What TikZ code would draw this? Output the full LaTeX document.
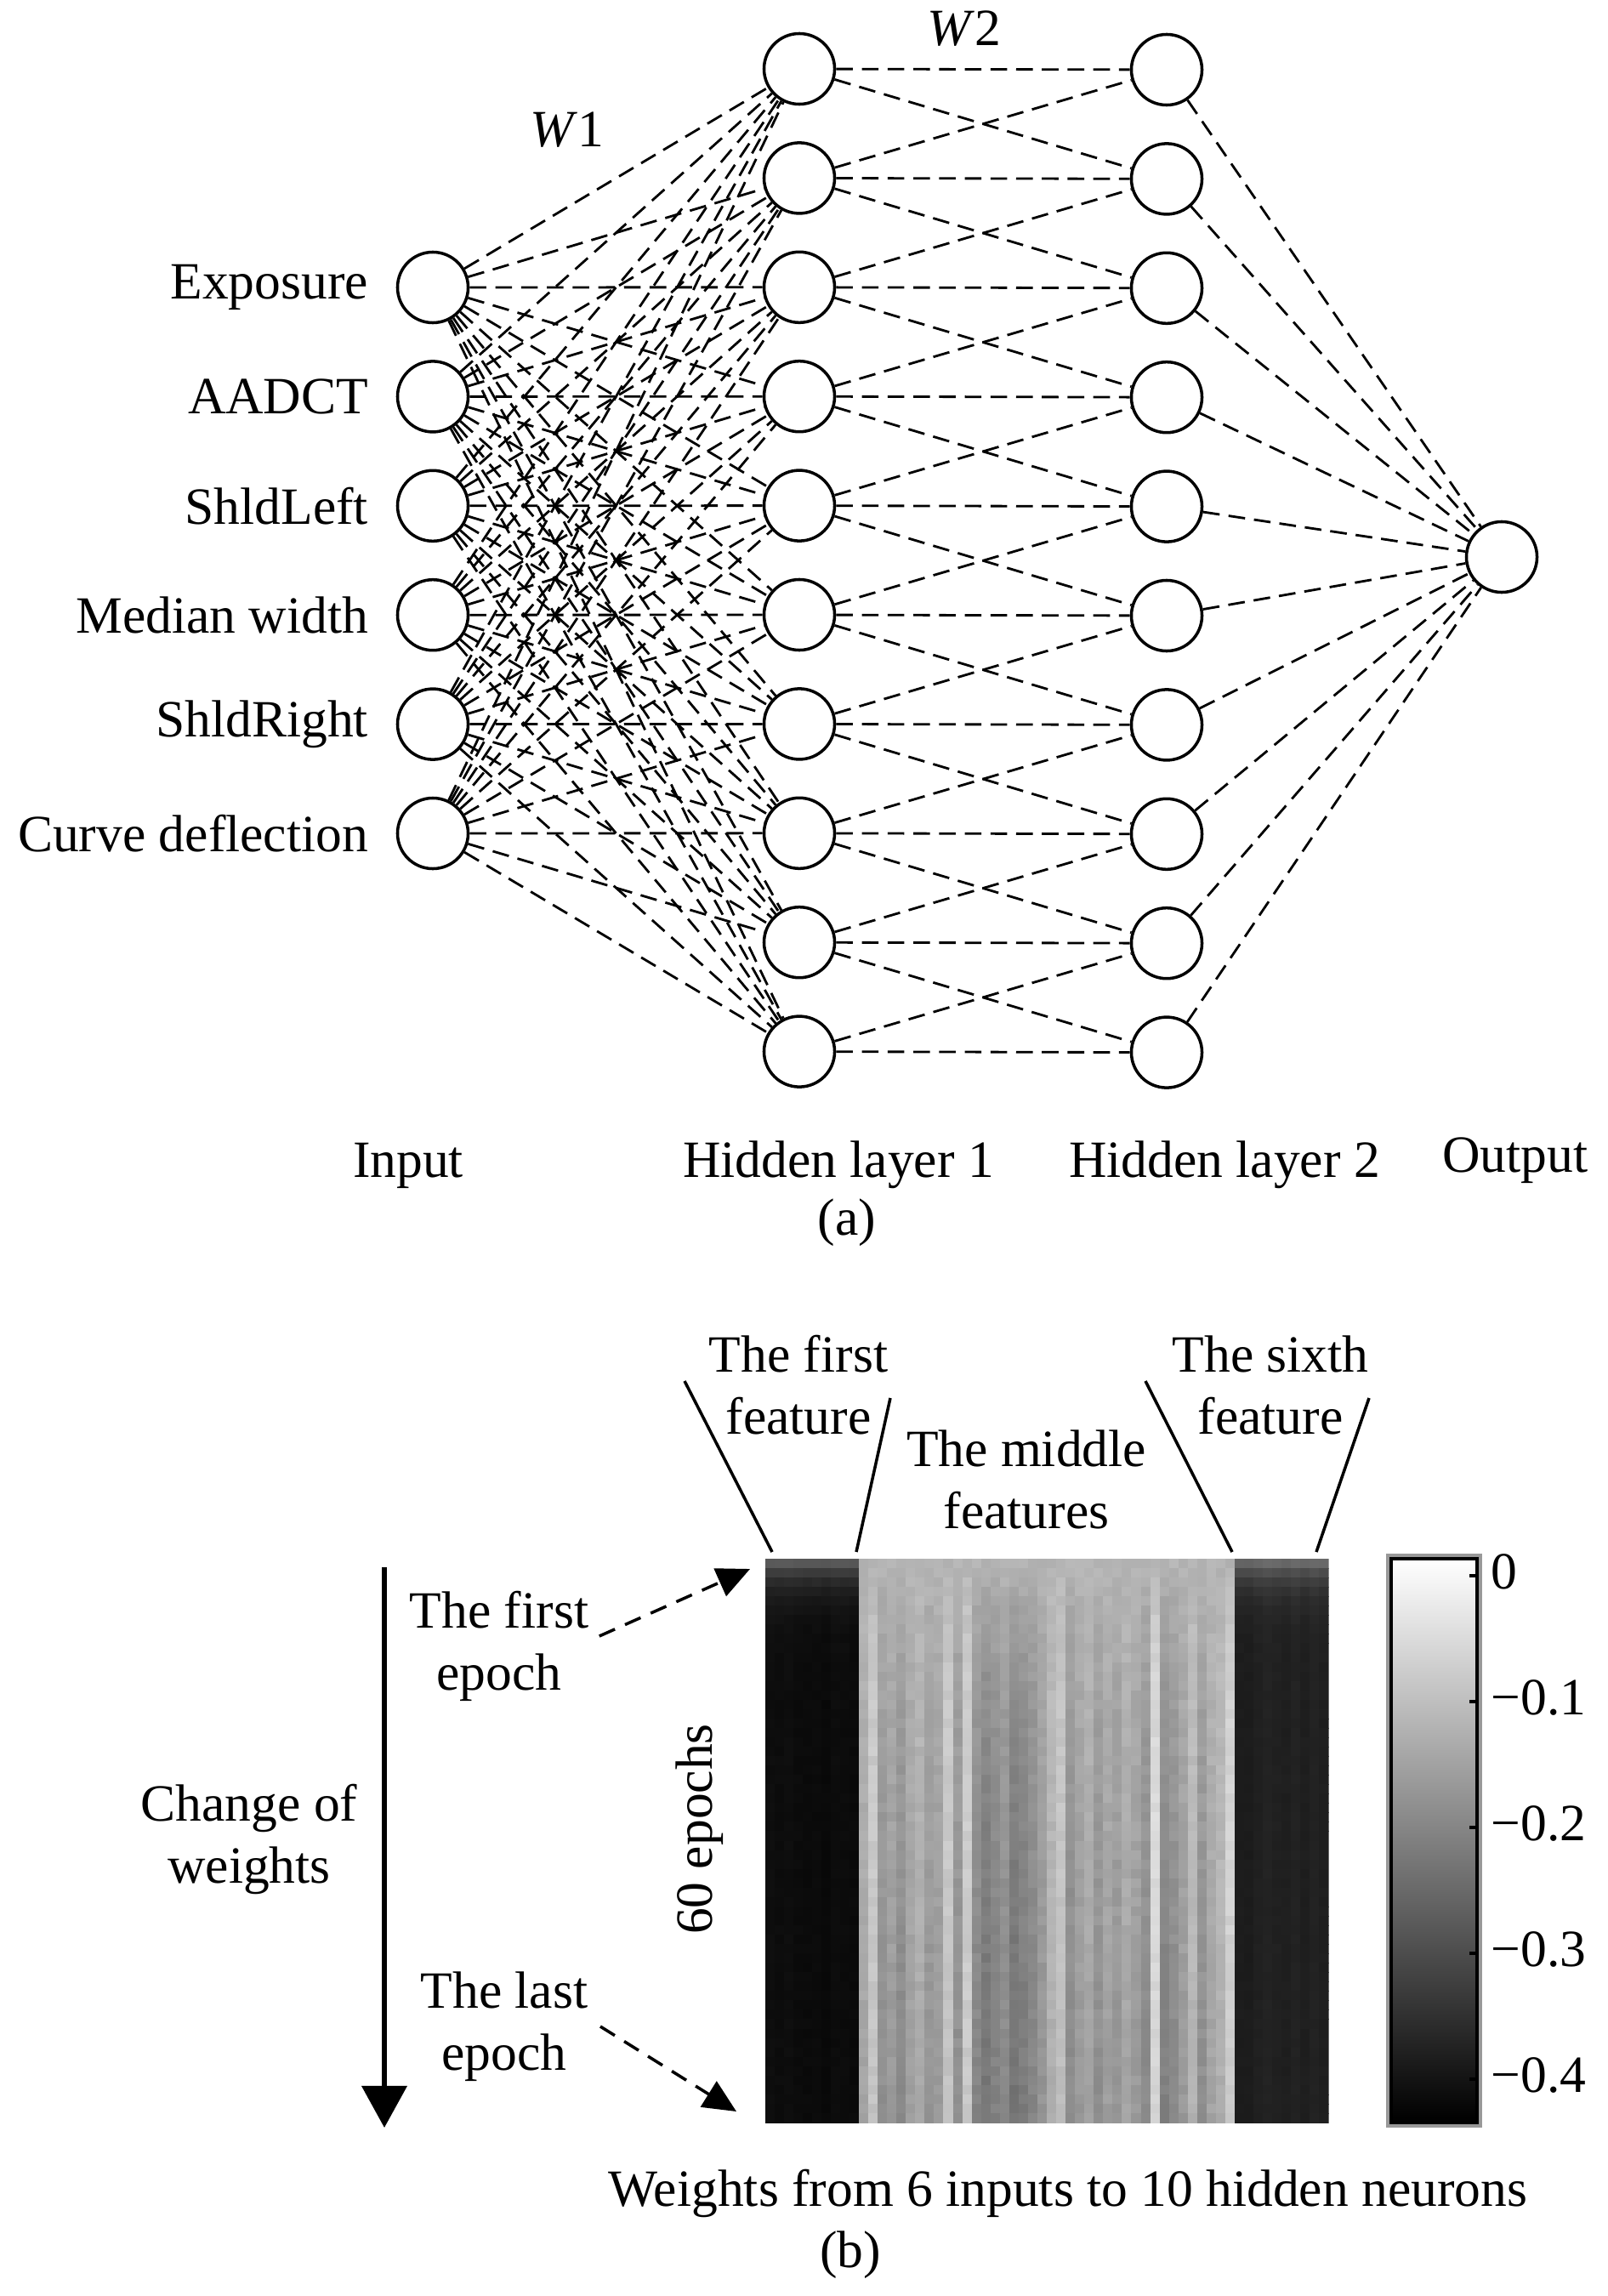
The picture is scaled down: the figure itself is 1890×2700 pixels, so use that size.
\documentclass[tikz,border=0pt]{standalone}
\usepackage{fontspec}
\setmainfont{Liberation Serif}
\usepackage{tikz}
\usetikzlibrary{arrows.meta,positioning}
\newcommand{\figfont}{\fontsize{17.5}{20.8}\selectfont}

\begin{document}
\begin{tikzpicture}[x=0.01cm, y=-0.01cm, font=\figfont,
    neuron/.style={circle, draw, line width=1pt, minimum size=0.83cm, inner sep=0pt},
    conn/.style={line width=0.8pt, dash pattern=on 5.6pt off 3pt},
    txt/.style={inner sep=0pt, align=center},
    ptr/.style={-{Triangle[length=11pt,width=10pt]}, line width=1pt, dash pattern=on 5.7pt off 3.7pt},
    brk/.style={line width=1pt}]

    \useasboundingbox (0,0) rectangle (1890,2700);

    % Input layer
    \foreach \k in {1,...,6}
        \node[neuron] (i\k) at (509,{338+128.4*(\k-1)}) {};
    \node[txt, left=0.32cm of i1] (fexp) {Exposure};
    \node[txt, left=0.32cm of i2] (faad) {AADCT};
    \node[txt, left=0.32cm of i3] (fsl) {ShldLeft};
    \node[txt, left=0.32cm of i4] (fmw) {Median width};
    \node[txt, left=0.32cm of i5] (fsr) {ShldRight};
    \node[txt, left=0.32cm of i6] (fcd) {Curve deflection};

    % Hidden layers
    \foreach \k in {1,...,10}{
        \node[neuron] (h\k) at (940,{81+128.4*(\k-1)}) {};
        \node[neuron] (g\k) at (1372,{82+128.4*(\k-1)}) {};
    }

    % Output
    \node[neuron] (out) at (1766,655) {};

    % Weights
    \foreach \i in {1,...,6}
        \foreach \j in {1,...,10}
            \draw[conn] (i\i) -- (h\j);
    \foreach \j in {1,...,10}{
        \draw[conn] (h\j) -- (g\j);
        \draw[conn] (g\j) -- (out);
    }
    \foreach \j [count=\n from 2] in {1,...,9}{
        \draw[conn] (h\j) -- (g\n);
        \draw[conn] (h\n) -- (g\j);
    }
    \node[txt] (w1) at (667,153) {\textit{W}1};
    \node[txt] (w2) at (1134,34) {\textit{W}2};

    % Layer names
    \node[txt, anchor=base] (linp) at (480,1384) {Input};
    \node[txt, anchor=base] (lhid1) at (986,1384) {Hidden layer 1};
    \node[txt, anchor=base] (lhid2) at (1440,1384) {Hidden layer 2};
    \node[txt, anchor=base] (lout) at (1782,1378) {Output};
    \node[txt, anchor=base] (capa) at (996,1452) {(a)};

    % Weight map, 60 epochs x 60 weights
    \pgfmathsetseed{7}
    \begin{scope}
        \clip (899.5,1833) rectangle (1562.5,2496);
        \foreach \col in {0,...,9}{
            \pgfmathsetmacro{\lo}{0.03+0.02*rnd}
            \foreach \row in {0,...,59}{
                \pgfmathsetmacro{\gv}{min(1,\lo+0.30*exp(-\row/2.2)+0.012*rnd)}
                \definecolor{cell}{gray}{\gv}
                \fill[cell] ({899.5+\col*11.05},{1833+\row*11.05}) rectangle +(11.7,11.7);
            }
        }
        \foreach \cb [count=\col from 10] in {0.74,0.86,0.66,0.70,0.64,0.72,0.76,0.68,0.70,0.86,
            0.66,0.88,0.62,0.56,0.60,0.64,0.55,0.58,0.62,0.68,0.78,0.84,0.64,0.70,0.74,0.66,
            0.72,0.68,0.74,0.70,0.64,0.93,0.60,0.64,0.70,0.80,0.66,0.74,0.78,0.90}{
            \foreach \row in {0,...,59}{
                \pgfmathsetmacro{\gv}{min(0.97,max(0.3,\cb-0.03+(0.74-\cb)*exp(-\row/10)-0.07*\row/59+0.05*rnd-0.025))}
                \definecolor{cell}{gray}{\gv}
                \fill[cell] ({899.5+\col*11.05},{1833+\row*11.05}) rectangle +(11.7,11.7);
            }
        }
        \foreach \col in {50,...,59}{
            \pgfmathsetmacro{\lo}{0.10+0.03*rnd}
            \foreach \row in {0,...,59}{
                \pgfmathsetmacro{\gv}{min(1,\lo+0.28*exp(-\row/2.2)+0.012*rnd)}
                \definecolor{cell}{gray}{\gv}
                \fill[cell] ({899.5+\col*11.05},{1833+\row*11.05}) rectangle +(11.7,11.7);
            }
        }
    \end{scope}

    % Colour bar
    \shade[top color=white, bottom color=black] (1636,1833) rectangle (1737,2496);
    \draw[black!40, line width=1pt] (1632,1829) rectangle (1741,2500);
    \draw[line width=0.9pt] (1636,1833) rectangle (1737,2496);
    \foreach \lab [count=\k from 0] in {0,−0.1,−0.2,−0.3,−0.4}{
        \draw[line width=0.9pt] (1737,{1853+148*\k}) -- +(-9,0);
        \node[txt, anchor=mid west] (cbl\k) at (1753,{1860+148*\k}) {\lab};
    }

    % Feature groups
    \node[txt] (ffirst) at (939,1629) {The first\\feature};
    \node[txt] (fmid) at (1207,1740) {The middle\\features};
    \node[txt] (fsixth) at (1494,1629) {The sixth\\feature};
    \draw[brk] (805,1624) -- (908,1825);
    \draw[brk] (1047,1644) -- (1007,1825);
    \draw[brk] (1347,1624) -- (1449,1825);
    \draw[brk] (1610,1644) -- (1548,1825);

    % Epochs
    \node[txt] (chg) at (293,2163) {Change of\\weights};
    \coordinate (chtop) at (452,1843);
    \coordinate (chbot) at (452,2502);
    \draw[-{Triangle[length=14pt,width=15pt]}, line width=1.5pt] (chtop) -- (chbot);
    \node[txt] (efirst) at (587,1936) {The first\\epoch};
    \node[txt] (elast) at (593,2383) {The last\\epoch};
    \coordinate (tfirst) at (882,1845);
    \coordinate (tlast) at (866,2483);
    \draw[ptr] ([shift={(0.12cm,0.12cm)}]efirst.east) -- (tfirst);
    \draw[ptr] ([xshift=0.14cm]elast.east) -- (tlast);
    \node[txt, rotate=90] (nep) at (823,2151) {60 epochs};

    \node[txt, anchor=base] (xlab) at (1256,2594) {Weights from 6 inputs to 10 hidden neurons};
    \node[txt, anchor=base] (capb) at (1000,2666) {(b)};
\end{tikzpicture}
\end{document}
